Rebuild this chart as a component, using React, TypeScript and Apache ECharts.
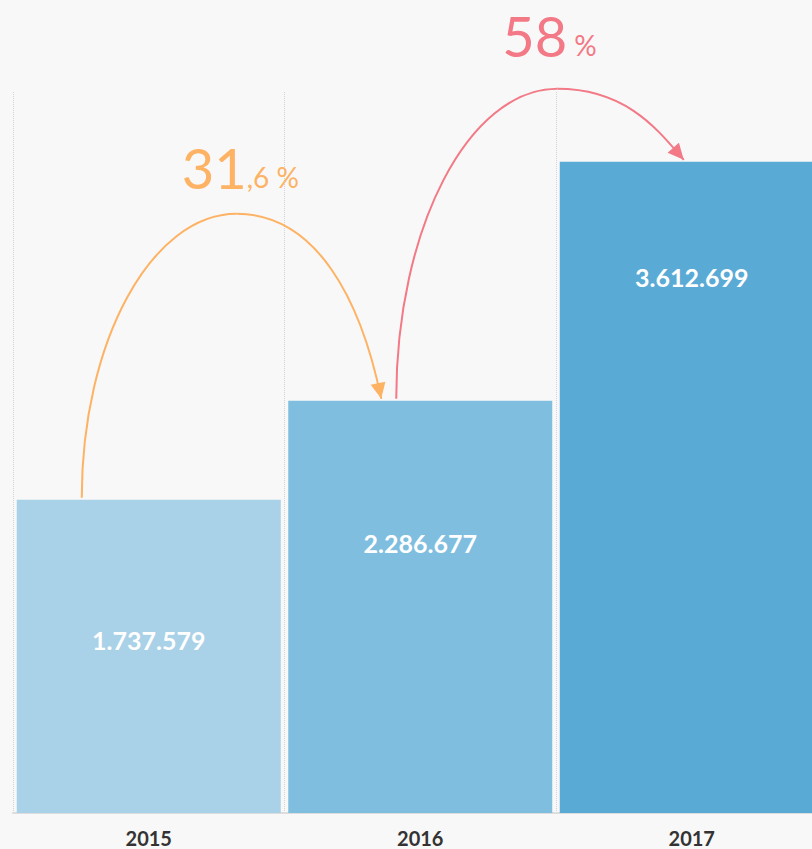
import React, { useEffect, useRef } from 'react';
import * as echarts from 'echarts';

// ---- data ----
const years = ['2015', '2016', '2017'];
const visitors = [1737579, 2286677, 3612699];
const yMax = 4000000;

// ---- styles / layout ----
const barColors = ['#A9D1E7', '#80BEDF', '#5AAAD6'];
const labelDy = [123, 125, 98];
const FONT = 'Lato, "Noto Sans", sans-serif';

// growth arcs: pixel offsets relative to bar centre / bar top
const arcDefs = [
  { from: 0, to: 1, color: '#FDB264', startDx: -67, endDx: -39, peakDx: 88, peakRise: 187, dir: [8, 39], textDy: -23 },
  { from: 1, to: 2, color: '#F27985', startDx: -24, endDx: -8, peakDx: 137, peakRise: 73, dir: [26, 30], textDy: -30 },
];

const fmt = (n: number) => String(n).replace(/\B(?=(\d{3})+(?!\d))/g, '.');

export default function App() {
  const ref = useRef<HTMLDivElement>(null);
  useEffect(() => {
    const chart = echarts.init(ref.current!, null, { renderer: 'svg' });
    chart.setOption({
      animation: false,
      backgroundColor: '#F8F8F8',
      grid: { left: 13, top: 92, width: 814.5, height: 721, outerBoundsMode: 'none', containLabel: false },
      xAxis: {
        type: 'category',
        data: years,
        axisLine: { show: true, lineStyle: { color: '#DDDDDD', width: 2 } },
        axisTick: { show: false },
        axisLabel: { color: '#333333', fontFamily: FONT, fontWeight: 'bold', fontSize: 20, lineHeight: 18, margin: 16 },
        splitLine: { show: true, lineStyle: { type: 'dotted', color: '#D3D3D3', width: 1 } },
      },
      yAxis: { type: 'value', min: 0, max: yMax, show: false, splitLine: { show: false } },
      series: [
        {
          type: 'bar',
          barWidth: 264,
          data: visitors.map((v, i) => ({
            value: v,
            itemStyle: { color: barColors[i] },
            label: { offset: [0, labelDy[i]] },
          })),
          label: {
            show: true,
            position: 'insideTop',
            color: '#FFFFFF',
            fontFamily: FONT,
            fontWeight: 'bold',
            fontSize: 25,
            formatter: (p: any) => fmt(p.value),
          },
        },
      ],
    });

    const px = (i: number) => chart.convertToPixel({ xAxisIndex: 0, yAxisIndex: 0 }, [i, visitors[i]]) as number[];
    const graphics: any[] = [];
    arcDefs.forEach((a) => {
      const [c0, t0] = px(a.from);
      const [c1, t1] = px(a.to);
      const S = [c0 + a.startDx, t0 - 2];
      const E = [c1 + a.endDx, t1 - 2];
      const P = [c0 + a.peakDx, t1 - a.peakRise];
      const k = 0.55;
      const len = Math.hypot(a.dir[0], a.dir[1]);
      const d = [a.dir[0] / len, a.dir[1] / len];
      const L = k * (E[1] - P[1]);
      graphics.push({
        type: 'bezierCurve',
        shape: { x1: S[0], y1: S[1], x2: P[0], y2: P[1], cpx1: S[0], cpy1: S[1] - k * (S[1] - P[1]), cpx2: P[0] - k * (P[0] - S[0]), cpy2: P[1] },
        style: { stroke: a.color, lineWidth: 2, fill: 'none' },
        z: 10,
      });
      graphics.push({
        type: 'bezierCurve',
        shape: { x1: P[0], y1: P[1], x2: E[0], y2: E[1], cpx1: P[0] + k * (E[0] - P[0]), cpy1: P[1], cpx2: E[0] - d[0] * L, cpy2: E[1] - d[1] * L },
        style: { stroke: a.color, lineWidth: 2, fill: 'none' },
        z: 10,
      });
      const hl = 16, hw = 7.5;
      const B = [E[0] - d[0] * hl, E[1] - d[1] * hl];
      const n = [-d[1], d[0]];
      graphics.push({
        type: 'polygon',
        shape: { points: [E, [B[0] + n[0] * hw, B[1] + n[1] * hw], [B[0] - n[0] * hw, B[1] - n[1] * hw]] },
        style: { fill: a.color },
        z: 11,
      });
      const pct = ((visitors[a.to] - visitors[a.from]) / visitors[a.from]) * 100;
      const [ip, dp] = pct.toFixed(1).split('.');
      const small = dp === '0' ? ' %' : ',' + dp + ' %';
      graphics.push({
        type: 'text',
        x: P[0] - 55,
        y: P[1] + a.textDy,
        style: {
          text: '{big|' + ip + '}{small|' + small + '}',
          textAlign: 'left',
          textVerticalAlign: 'bottom',
          rich: {
            big: { fontFamily: FONT, fontSize: 56, fill: a.color, color: a.color, lineHeight: 46 },
            small: { fontFamily: FONT, fontSize: 28, fill: a.color, color: a.color, lineHeight: 46, verticalAlign: 'bottom' },
          },
        },
        z: 12,
      });
    });
    chart.setOption({ graphic: graphics });
    return () => chart.dispose();
  }, []);
  return <div ref={ref} style={{ position: 'absolute', left: 0, top: 0, width: 812, height: 849 }} />;
}
